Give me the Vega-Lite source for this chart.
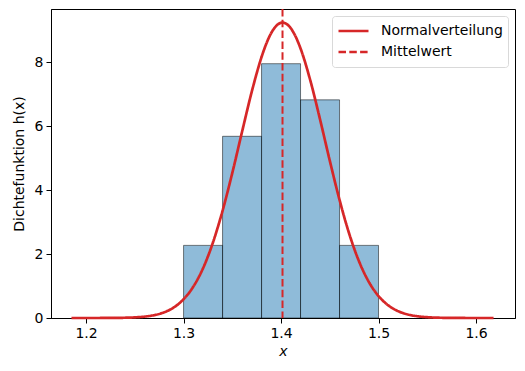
{
  "$schema": "https://vega.github.io/schema/vega-lite/v6.json",
  "autosize": {"type": "fit", "contains": "padding"},
  "width": 525,
  "height": 371,
  "padding": {"left": 12, "top": 8, "right": 10, "bottom": 13},
  "config": {
    "font": "DejaVu Sans",
    "view": {"stroke": "black", "strokeWidth": 1},
    "axis": {
      "grid": false,
      "domainColor": "black",
      "tickColor": "black",
      "tickSize": 5,
      "labelFontSize": 14,
      "titleFontSize": 14,
      "labelColor": "black",
      "titleColor": "black",
      "titleFontWeight": "normal",
      "labelPadding": 3
    },
    "legend": {
      "labelFontSize": 14,
      "labelColor": "black"
    }
  },
  "layer": [
    {
      "data": {"values": [
        {"x0": 1.30, "x1": 1.34, "density": 2.27},
        {"x0": 1.34, "x1": 1.38, "density": 5.68},
        {"x0": 1.38, "x1": 1.42, "density": 7.95},
        {"x0": 1.42, "x1": 1.46, "density": 6.82},
        {"x0": 1.46, "x1": 1.50, "density": 2.27}
      ]},
      "mark": {"type": "rect", "fill": "#1f77b4", "fillOpacity": 0.5, "stroke": "black", "strokeOpacity": 0.5, "strokeWidth": 1},
      "encoding": {
        "x": {"field": "x0", "type": "quantitative", "scale": {"domain": [1.164, 1.640], "nice": false, "zero": false},
              "axis": {"values": [1.2, 1.3, 1.4, 1.5, 1.6], "format": ".1f", "title": "x", "titleFontStyle": "italic", "titlePadding": 4}},
        "x2": {"field": "x1"},
        "y": {"field": "density", "type": "quantitative", "scale": {"domain": [0, 9.66], "nice": false},
              "axis": {"values": [0, 2, 4, 6, 8], "title": "Dichtefunktion h(x)", "titlePadding": 8}},
        "y2": {"datum": 0}
      }
    },
    {
      "data": {"values": [
        {"x": 1.185, "y": 0.0, "series": "Normalverteilung"},
        {"x": 1.20, "y": 0.0002, "series": "Normalverteilung"},
        {"x": 1.21, "y": 0.0005, "series": "Normalverteilung"},
        {"x": 1.22, "y": 0.0014, "series": "Normalverteilung"},
        {"x": 1.23, "y": 0.0035, "series": "Normalverteilung"},
        {"x": 1.24, "y": 0.0085, "series": "Normalverteilung"},
        {"x": 1.25, "y": 0.0197, "series": "Normalverteilung"},
        {"x": 1.26, "y": 0.0432, "series": "Normalverteilung"},
        {"x": 1.27, "y": 0.0898, "series": "Normalverteilung"},
        {"x": 1.28, "y": 0.177, "series": "Normalverteilung"},
        {"x": 1.29, "y": 0.330, "series": "Normalverteilung"},
        {"x": 1.30, "y": 0.585, "series": "Normalverteilung"},
        {"x": 1.31, "y": 0.980, "series": "Normalverteilung"},
        {"x": 1.32, "y": 1.557, "series": "Normalverteilung"},
        {"x": 1.33, "y": 2.348, "series": "Normalverteilung"},
        {"x": 1.34, "y": 3.352, "series": "Normalverteilung"},
        {"x": 1.35, "y": 4.537, "series": "Normalverteilung"},
        {"x": 1.36, "y": 5.822, "series": "Normalverteilung"},
        {"x": 1.37, "y": 7.080, "series": "Normalverteilung"},
        {"x": 1.38, "y": 8.159, "series": "Normalverteilung"},
        {"x": 1.385, "y": 8.585, "series": "Normalverteilung"},
        {"x": 1.39, "y": 8.914, "series": "Normalverteilung"},
        {"x": 1.395, "y": 9.131, "series": "Normalverteilung"},
        {"x": 1.40, "y": 9.229, "series": "Normalverteilung"},
        {"x": 1.4015, "y": 9.235, "series": "Normalverteilung"},
        {"x": 1.405, "y": 9.205, "series": "Normalverteilung"},
        {"x": 1.41, "y": 9.058, "series": "Normalverteilung"},
        {"x": 1.415, "y": 8.795, "series": "Normalverteilung"},
        {"x": 1.42, "y": 8.426, "series": "Normalverteilung"},
        {"x": 1.43, "y": 7.429, "series": "Normalverteilung"},
        {"x": 1.44, "y": 6.209, "series": "Normalverteilung"},
        {"x": 1.45, "y": 4.918, "series": "Normalverteilung"},
        {"x": 1.46, "y": 3.692, "series": "Normalverteilung"},
        {"x": 1.47, "y": 2.627, "series": "Normalverteilung"},
        {"x": 1.48, "y": 1.771, "series": "Normalverteilung"},
        {"x": 1.49, "y": 1.132, "series": "Normalverteilung"},
        {"x": 1.50, "y": 0.686, "series": "Normalverteilung"},
        {"x": 1.51, "y": 0.394, "series": "Normalverteilung"},
        {"x": 1.52, "y": 0.215, "series": "Normalverteilung"},
        {"x": 1.53, "y": 0.111, "series": "Normalverteilung"},
        {"x": 1.54, "y": 0.054, "series": "Normalverteilung"},
        {"x": 1.55, "y": 0.025, "series": "Normalverteilung"},
        {"x": 1.56, "y": 0.011, "series": "Normalverteilung"},
        {"x": 1.57, "y": 0.0046, "series": "Normalverteilung"},
        {"x": 1.58, "y": 0.0018, "series": "Normalverteilung"},
        {"x": 1.59, "y": 0.0007, "series": "Normalverteilung"},
        {"x": 1.60, "y": 0.0002, "series": "Normalverteilung"},
        {"x": 1.61, "y": 0.0001, "series": "Normalverteilung"},
        {"x": 1.618, "y": 0.0, "series": "Normalverteilung"}
      ]},
      "mark": {"type": "line", "strokeWidth": 2.7, "interpolate": "monotone"},
      "encoding": {
        "x": {"field": "x", "type": "quantitative"},
        "y": {"field": "y", "type": "quantitative"},
        "color": {"field": "series", "type": "nominal",
                  "scale": {"domain": ["Normalverteilung", "Mittelwert"], "range": ["#d62728", "#d62728"]},
                  "legend": {"title": null, "orient": "top-right", "offset": 7, "fillColor": "white", "strokeColor": "#d9d9d9", "cornerRadius": 3, "padding": 5, "symbolType": "stroke", "symbolSize": 900, "clipHeight": 20, "symbolStrokeWidth": 2.7, "rowPadding": 1, "labelOffset": 11}},
        "strokeDash": {"field": "series", "type": "nominal",
                       "scale": {"domain": ["Normalverteilung", "Mittelwert"], "range": [[1, 0], [7.5, 3.3]]},
                       "legend": {"title": null, "orient": "top-right", "offset": 7, "fillColor": "white", "strokeColor": "#d9d9d9", "cornerRadius": 3, "padding": 5, "symbolType": "stroke", "symbolSize": 900, "clipHeight": 20, "symbolStrokeWidth": 2.7, "rowPadding": 1, "labelOffset": 11}}
      }
    },
    {
      "data": {"values": [{"mean": 1.4015, "series": "Mittelwert"}]},
      "mark": {"type": "rule", "strokeWidth": 2},
      "encoding": {
        "x": {"field": "mean", "type": "quantitative"},
        "color": {"field": "series", "type": "nominal"},
        "strokeDash": {"field": "series", "type": "nominal"}
      }
    }
  ]
}
